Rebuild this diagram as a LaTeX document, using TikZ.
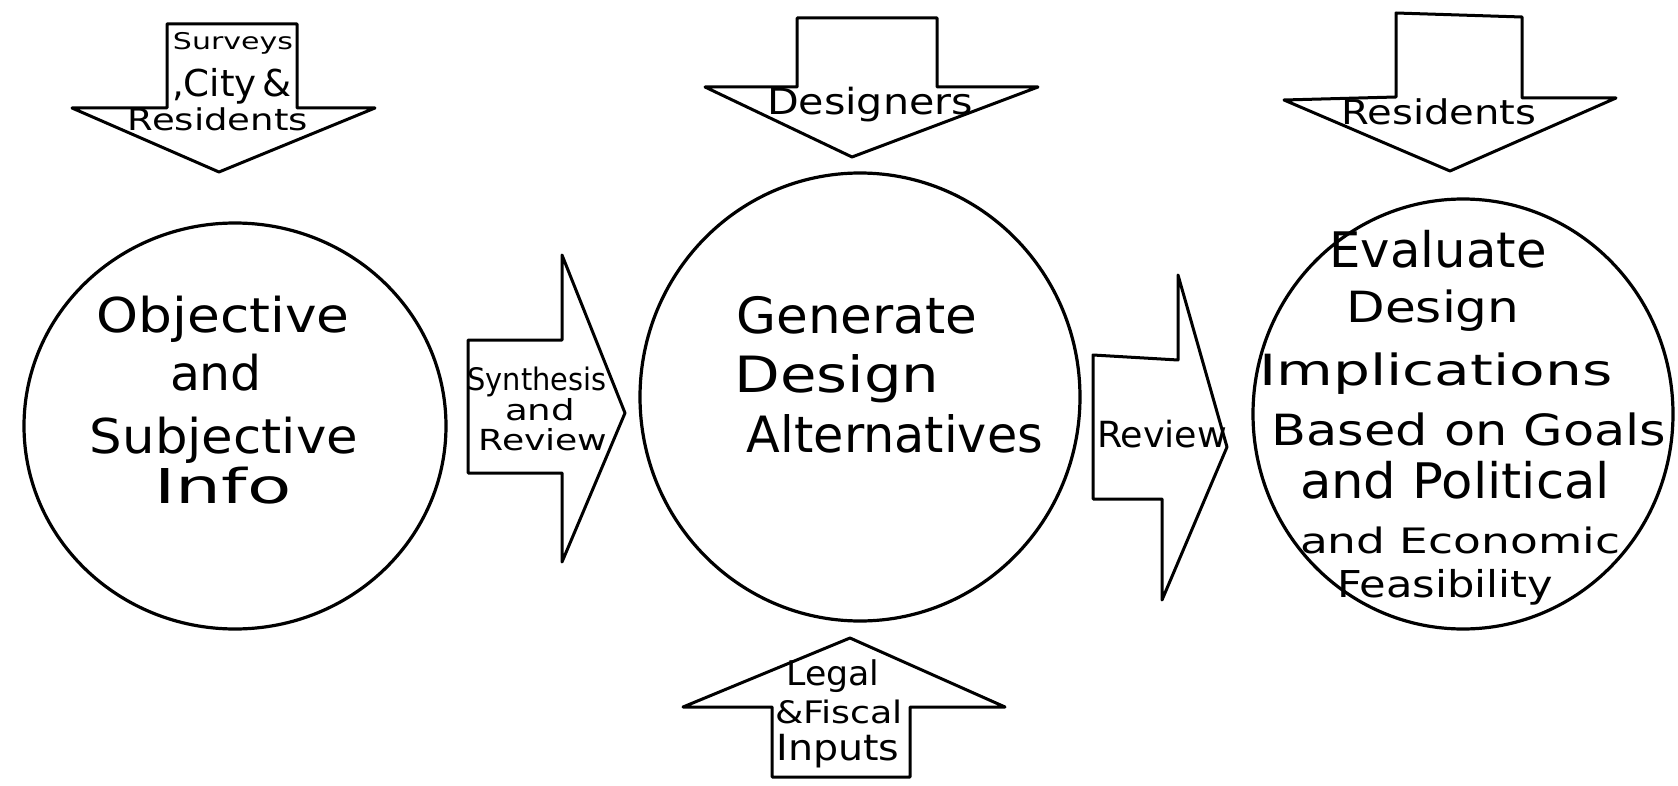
\documentclass[tikz,border=0pt]{standalone}
\usepackage{fontspec}
\usepackage{graphicx}
\setmainfont{DejaVu Sans}
\usetikzlibrary{shapes.geometric}
\newcommand{\myfs}[1]{\fontsize{#1}{#1}\selectfont}
\newcommand{\fitw}[3]{\resizebox{#1pt}{\height}{\myfs{#2}#3}}
\begin{document}
\begin{tikzpicture}[x=1pt,y=-1pt, line width=3.2pt, line join=round, line cap=round,
  blob/.style={draw, ellipse, inner sep=0pt},
  lbl/.style={inner sep=0pt, anchor=base},
  arr/.style={draw, line width=3pt}]
\useasboundingbox (0,0) rectangle (1678,786);
\fill[white] (0,0) rectangle (1678,786);

% circles
\node[blob, minimum width=422pt, minimum height=406pt] (c1) at (235,426) {};
\node[blob, minimum width=440pt, minimum height=448pt] (c2) at (860,397) {};
\node[blob, minimum width=420pt, minimum height=430pt] (c3) at (1463,414) {};

% circle texts
\node[lbl] (t11) at (223,332) {\fitw{253}{48}{Objective}};
\node[lbl] (t12) at (216,390) {\fitw{92}{48}{and}};
\node[lbl] (t13) at (224,453) {\fitw{268}{48}{Subjective}};
\node[lbl] (t14) at (223,503) {\fitw{137}{48}{Info}};

\node[lbl] (t21) at (857,333) {\fitw{241}{50}{Generate}};
\node[lbl] (t22) at (837,392) {\fitw{205}{50}{Design}};
\node[lbl] (t23) at (895,452) {\fitw{296}{50}{Alternatives}};

\node[lbl] (t31) at (1438,267) {\fitw{217}{49}{Evaluate}};
\node[lbl] (t32) at (1433,322) {\fitw{173}{43}{Design}};
\node[lbl] (t33) at (1436,385) {\fitw{353}{43}{Implications}};
\node[lbl] (t34) at (1469,445) {\fitw{395}{43}{Based on Goals}};
\node[lbl] (t35) at (1455,498) {\fitw{310}{49}{and Political}};
\node[lbl] (t36) at (1460,553) {\fitw{320}{35}{and Economic}};
\node[lbl] (t37) at (1445,597) {\fitw{216}{37}{Feasibility}};

% top-left arrow
\draw[arr] (167,24) -- (297,24) -- (297,108) -- (375,108) -- (219,172) -- (72,108) -- (167,108) -- cycle;
\node[lbl] (a1a) at (233,50) {\fitw{120}{23}{Surveys}};
\node[lbl] (a1b) at (232,97) {\fitw{120}{37}{,City\,\&}};
\node[lbl] (a1c) at (218,131) {\fitw{180}{30}{Residents}};

% top-middle arrow
\draw[arr] (797,18) -- (937,18) -- (937,87) -- (1038,87) -- (852,157) -- (705,87) -- (797,87) -- cycle;
\node[lbl] (a2) at (870,115) {\fitw{206}{36}{Designers}};

% top-right arrow
\draw[arr] (1396,13) -- (1522,17) -- (1522,98) -- (1616,98) -- (1450,171) -- (1284,100) -- (1396,97) -- cycle;
\node[lbl] (a3) at (1439,125) {\fitw{195}{34}{Residents}};

% synthesis arrow
\draw[arr] (468,340) -- (562,340) -- (562,255) -- (625,413) -- (562,562) -- (562,473) -- (468,473) -- cycle;
\node[lbl] (a4a) at (537,390) {\fitw{139}{31}{Synthesis}};
\node[lbl] (a4b) at (540,420) {\fitw{70}{29}{and}};
\node[lbl] (a4c) at (543,450) {\fitw{129}{29}{Review}};

% review arrow
\draw[arr] (1093,355) -- (1178,360) -- (1178,275) -- (1227,447) -- (1162,600) -- (1162,499) -- (1093,499) -- cycle;
\node[lbl] (a5) at (1162,447) {\fitw{130}{36}{Review}};

% bottom arrow
\draw[arr] (772,777) -- (910,777) -- (910,707) -- (1005,707) -- (850,638) -- (683,707) -- (772,707) -- cycle;
\node[lbl] (a6a) at (833,685) {\fitw{93}{34}{Legal}};
\node[lbl] (a6b) at (839,723) {\fitw{128}{31}{\&Fiscal}};
\node[lbl] (a6c) at (838,760) {\fitw{123}{36}{Inputs}};
\end{tikzpicture}
\end{document}
